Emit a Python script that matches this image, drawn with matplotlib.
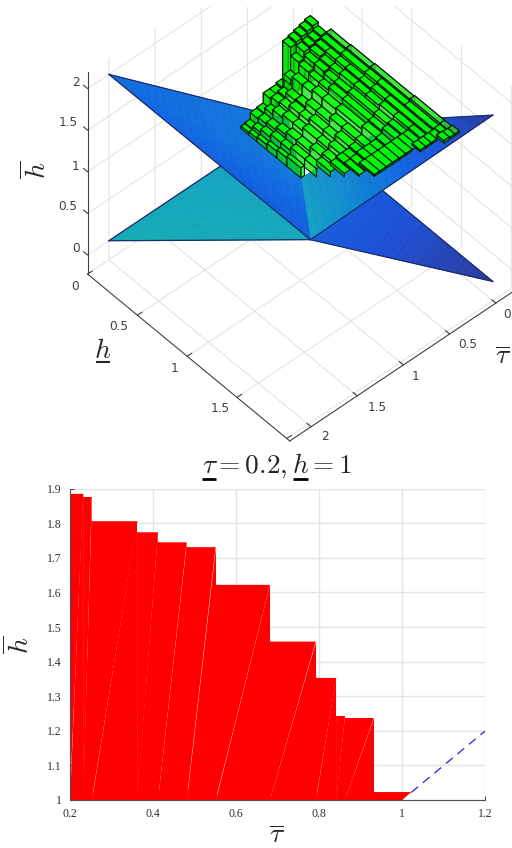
import numpy as np
import matplotlib
matplotlib.use("Agg")
from matplotlib import pyplot as plt
from matplotlib.colors import LinearSegmentedColormap
from matplotlib.lines import Line2D
from matplotlib.patches import Rectangle
from mpl_toolkits.mplot3d.art3d import Poly3DCollection

plt.rcParams['mathtext.fontset'] = 'cm'

W, H = 512, 848

# top panel: corners of the blue sheets (h, tau, hbar)
pt_a = (0, 2, 2)
pt_b = (0, 2, 0)
pt_c = (1.05, 0.95, 0.27)
pt_d = (2, 0, 0)
pt_e = (2, 0, 2)
pt_m = (1, 1, 1)
pt_p = (0, 0.7, 0)
pt_q = (0.7, 0, 0)
pt_t = (0.55, 0.65, 1)
pt_u = (1.05, 0, 1)

# colour position at the corners of each sheet
lower_teal = ([pt_b, pt_c, pt_p], [1.0, 0.92, 0.8])
lower_blue = ([pt_d, pt_c, pt_q], [0.0, 0.3, 0.3])
upper_blue = [([pt_a, pt_c, pt_m], [0.42, 0.3, 0.5]),
              ([pt_a, pt_m, pt_t], [0.42, 0.5, 0.5])]
upper_teal = [([pt_e, pt_c, pt_m], [0.0, 0.82, 0.75]),
              ([pt_e, pt_m, pt_u], [0.0, 0.75, 0.4])]

# green staircase: one row per h cell, one column per tau cell
h_edges = [0.40, 0.48, 0.56, 0.66, 0.76, 0.86, 1.0, 1.12, 1.26, 1.4, 1.55, 1.7, 1.78, 1.85]
h_base = [1, 1, 1, 1, 1, 1, 1.1, 1.24, 1.38, 1.53, 1.68, 1.75, 1.79]
tau_edges = [0.2, 0.25, 0.31, 0.37, 0.43, 0.49, 0.55, 0.62, 0.69, 0.76, 0.83, 0.90, 0.96, 1.0]
green_top = [
    [1.63, 1.80, 1.78, 1.76, 1.74, 1.72, 1.27, 1.25, 1.25, 1.13, 1.12, 1.04, 1.03],
    [1.65, 1.76, 1.74, 1.72, 1.70, 1.62, 1.45, 1.30, 1.28, 1.20, 1.14, 1.08, 1.04],
    [1.76, 1.74, 1.72, 1.70, 1.66, 1.60, 1.50, 1.36, 1.30, 1.26, 1.16, 1.12, 1.06],
    [1.76, 1.74, 1.72, 1.68, 1.66, 1.58, 1.50, 1.38, 1.36, 1.30, 1.20, 1.16, 1.08],
    [1.77, 1.75, 1.72, 1.68, 1.64, 1.58, 1.54, 1.44, 1.36, 1.30, 1.24, 1.16, 1.10],
    [1.77, 1.75, 1.72, 1.70, 1.64, 1.62, 1.54, 1.44, 1.40, 1.34, 1.24, 1.20, 1.12],
    [1.78, 1.76, 1.72, 1.70, 1.66, 1.62, 1.56, 1.50, 1.40, 1.34, 1.30, 1.20, 0],
    [1.78, 1.76, 1.74, 1.70, 1.66, 1.62, 1.56, 1.50, 1.46, 1.40, 1.34, 1.30, 0],
    [1.78, 1.76, 1.74, 1.72, 1.66, 1.62, 1.60, 1.50, 1.46, 1.44, 1.44, 1.42, 0],
    [1.79, 1.76, 1.74, 1.72, 1.68, 1.66, 1.60, 1.58, 1.58, 1.58, 1.56, 1.55, 0],
    [1.79, 1.76, 1.74, 1.72, 1.70, 1.70, 1.70, 1.70, 1.70, 1.70, 1.70, 1.70, 0],
    [1.79, 1.78, 1.77, 1.77, 1.77, 1.77, 0, 0, 0, 0, 0, 0, 0],
    [1.81, 1.81, 1.82, 0, 0, 0, 0, 0, 0, 0, 0, 0, 0],
]

# top panel tick labels
h_ticks = [0, 0.5, 1, 1.5, 2]
tau_ticks = [0, 0.5, 1, 1.5, 2]
hbar_ticks = [0, 0.5, 1, 1.5, 2]
h_labels = ["0", "0.5", "1", "1.5"]
tau_labels = ["0", "0.5", "1", "1.5", "2"]
hbar_labels = ["0", "0.5", "1", "1.5", "2"]

# bottom panel
step_right = [0.233, 0.253, 0.363, 0.4125, 0.4815, 0.551, 0.682, 0.792,
              0.8415, 0.8625, 0.9315]
step_top = [1.885, 1.876, 1.806, 1.774, 1.745, 1.731, 1.622, 1.458,
            1.353, 1.243, 1.237]
sliver_x = [0.9315, 0.9315, 1.022, 1.0]
sliver_y = [1.0, 1.023, 1.023, 1.0]
dash_x = [1.022, 1.2]
dash_y = [1.022, 1.2]

sheet_cmap = LinearSegmentedColormap.from_list(
    "sheet", ["#2b3a9c", "#1a50d8", "#0f66e2", "#1288d2", "#12a2c4", "#14abb4"])

top_green = (0, 1, 0, 0.92)
ridge_green = (0.25, 0.9, 0.25, 0.7)
wall_green = (0, 0.88, 0, 0.72)


def sheet_patches(corners, vals, n=24):
    """Split one triangle into small ones so the colour can fade across it."""
    corners = np.array(corners, dtype=float)
    vals = np.array(vals, dtype=float)
    polys, cols = [], []

    def pick(i, j):
        k = n - i - j
        w = np.array([i, j, k]) / n
        return w @ corners, w @ vals

    for i in range(n):
        for j in range(n - i):
            tri = [pick(i, j), pick(i + 1, j), pick(i, j + 1)]
            polys.append([t[0] for t in tri])
            cols.append(sheet_cmap(np.mean([t[1] for t in tri])))
            if i + j < n - 1:
                tri = [pick(i + 1, j), pick(i + 1, j + 1), pick(i, j + 1)]
                polys.append([t[0] for t in tri])
                cols.append(sheet_cmap(np.mean([t[1] for t in tri])))
    return polys, cols


def add_sheet(ax, tris, order):
    for corners, vals in tris:
        polys, cols = sheet_patches(corners, vals)
        pc = Poly3DCollection(polys, facecolors=cols, edgecolors=cols, linewidths=0.4)
        pc.set_zorder(order)
        ax.add_collection3d(pc)


def stair_faces():
    """Faces of the green stairs, joined along h where the height stays the same."""
    tops = np.array(green_top)
    n_h, n_t = tops.shape
    faces, cols = [], []

    def at(i, j):
        if 0 <= i < n_h and 0 <= j < n_t:
            return tops[i, j]
        return 0

    def wall(verts):
        faces.append(verts)
        cols.append(wall_green)

    for j in range(n_t):
        t0, t1 = tau_edges[j], tau_edges[j + 1]
        i = 0
        while i < n_h:
            z = tops[i, j]
            if z <= h_base[i]:
                i += 1
                continue
            end = i
            while (end + 1 < n_h and tops[end + 1, j] == z
                   and at(end + 1, j + 1) == at(i, j + 1) and at(end + 1, j - 1) == at(i, j - 1)
                   and z > h_base[end + 1]):
                end += 1
            h0, h1 = h_edges[i], h_edges[end + 1]
            base = h_base[end]
            faces.append([(h0, t0, z), (h1, t0, z), (h1, t1, z), (h0, t1, z)])
            cols.append(ridge_green if j == 0 else top_green)
            # neighbours decide how far each wall drops
            low = max(at(end + 1, j), base)
            if z > low:
                wall([(h1, t0, low), (h1, t1, low), (h1, t1, z), (h1, t0, z)])
            low = max(at(i - 1, j), base)
            if z > low:
                wall([(h0, t0, low), (h0, t1, low), (h0, t1, z), (h0, t0, z)])
            low = max(at(i, j + 1), base)
            if z > low:
                wall([(h0, t1, low), (h1, t1, low), (h1, t1, z), (h0, t1, z)])
            low = max(at(i, j - 1), base)
            if z > low:
                wall([(h0, t0, low), (h1, t0, low), (h1, t0, z), (h0, t0, z)])
            i = end + 1
    return faces, cols


def draw_top(fig):
    size = 530
    cx, cy = 293.8, 188.5
    ax = fig.add_axes([(cx - size / 2) / W, 1 - (cy + size / 2) / H, size / W, size / H],
                      projection="3d", computed_zorder=False)
    ax.set_proj_type("ortho")
    ax.set_box_aspect((1, 1, 1), zoom=508 / size)
    ax.view_init(elev=48, azim=-42)
    ax.patch.set_visible(False)
    ax.set_xlim(0, 2.03)
    ax.set_ylim(2.23, -0.2)
    ax.set_zlim(-0.23, 2.2)

    add_sheet(ax, [lower_teal], 1)
    add_sheet(ax, [lower_blue], 1.5)
    edge = dict(color="#1c2c66", lw=0.9)
    for p, q, order in [(pt_b, pt_c, 1.6), (pt_b, pt_p, 1.6), (pt_d, pt_c, 1.6), (pt_d, pt_q, 1.6)]:
        ax.plot(*zip(p, q), zorder=order, **edge)
    add_sheet(ax, upper_teal, 2)
    add_sheet(ax, upper_blue, 2.5)
    for p, q in [(pt_a, pt_c), (pt_a, pt_t), (pt_c, pt_e), (pt_e, pt_u)]:
        ax.plot(*zip(p, q), zorder=2.6, **edge)

    faces, cols = stair_faces()
    stairs = Poly3DCollection(faces, facecolors=cols, edgecolors="#062006", linewidths=0.8)
    stairs.set_zorder(3)
    ax.add_collection3d(stairs)

    # labels go in by hand below, mplot3d puts them too far from the axes
    ax.set_xticks(h_ticks, [""] * len(h_ticks))
    ax.set_yticks(tau_ticks, [""] * len(tau_ticks))
    ax.set_zticks(hbar_ticks, [""] * len(hbar_ticks))
    for axis in (ax.xaxis, ax.yaxis, ax.zaxis):
        axis.set_pane_color((1, 1, 1, 0))
        axis.pane.set_edgecolor((1, 1, 1, 0))
        axis.line.set_color("#404040")
        axis.line.set_linewidth(0.8)
        axis._axinfo["grid"].update(color="#e4e4e4", linewidth=0.8)
        axis._axinfo["tick"].update(inward_factor=0.0, outward_factor=0.25)
    ax.tick_params(color="#404040")
    ax.zaxis.set_ticks_position("upper")
    return ax


def draw_bottom(fig):
    ax = fig.add_axes([69.7 / W, 1 - 800 / H, 415.6 / W, 311.3 / H])
    ax.set_xlim(0.2, 1.2)
    ax.set_ylim(1, 1.9)
    ax.grid(True, color="#e4e4e4", lw=1)
    ax.set_axisbelow(True)
    left = 0.2
    for right, top in zip(step_right, step_top):
        ax.fill([left, right, right], [1, 1, top], color="red", lw=0, zorder=2)
        ax.fill([left, right, left], [1, top, top], color="red", lw=0, zorder=2)
        ax.plot([left, left], [1, top], color="red", lw=0.6, zorder=2)
        left = right
    ax.fill(sliver_x, sliver_y, color="red", lw=0, zorder=2)
    ax.plot(dash_x, dash_y, color="#2020e0", lw=0.9, dashes=(7, 5), zorder=3)

    ax.set_xticks([0.2, 0.4, 0.6, 0.8, 1, 1.2], ["0.2", "0.4", "0.6", "0.8", "1", "1.2"])
    ax.set_yticks(np.arange(10) / 10 + 1, ["1", "1.1", "1.2", "1.3", "1.4", "1.5", "1.6", "1.7", "1.8", "1.9"])
    ax.tick_params(direction="in", length=3, width=0.7, color="#404040", labelcolor="#303030", labelsize=8.5, pad=6)
    for lab in ax.get_xticklabels() + ax.get_yticklabels():
        lab.set_family("Liberation Serif")
    ax.spines["top"].set_visible(False)
    ax.spines["right"].set_visible(False)
    ax.spines["bottom"].set_color("#505050")
    ax.spines["left"].set_color("#505050")
    return ax


def px_text(fig, x, y, s, size, rot=0, color="#262626"):
    fig.text(x / W, 1 - y / H, s, fontsize=size, rotation=rot, ha="center", va="center", color=color)


def px_rule(fig, x0, x1, y, lw=1.5, color="#262626"):
    # mathtext has no \underline, so the bar is drawn by hand
    fig.add_artist(Line2D([x0 / W, x1 / W], [1 - y / H, 1 - y / H], color=color, lw=lw,
                          transform=fig.transFigure, solid_capstyle="butt", zorder=11))


if __name__ == '__main__':
    fig = plt.figure(figsize=(W / 100, H / 100), dpi=100)
    draw_top(fig)
    draw_bottom(fig)
    # the original picture cuts the walls off just under its top edge
    fig.add_artist(Rectangle((0, 1 - 7 / H), 1, 7 / H, transform=fig.transFigure,
                             color="white", lw=0, zorder=10))

    for s, (x, y) in zip(h_labels, [(75, 287), (119, 327), (175, 368), (220, 408)]):
        px_text(fig, x, y, s, 8.7, color="#404040")
    for s, (x, y) in zip(tau_labels, [(507, 314), (468, 345), (416, 376), (377, 407), (325, 437)]):
        px_text(fig, x, y, s, 8.7, color="#404040")
    for s, (x, y) in zip(hbar_labels, [(76, 248), (68, 207), (76, 166), (68, 123), (76, 83)]):
        px_text(fig, x, y, s, 8.7, color="#404040")

    px_text(fig, 37, 170, r"$\overline{h}$", 20, 90)
    px_text(fig, 103, 350, r"$h$", 20)
    px_rule(fig, 96, 110, 362)
    px_text(fig, 503, 356, r"$\overline{\tau}$", 20)
    px_text(fig, 277, 466, r"$\tau=0.2,h=1$", 19.7)
    px_rule(fig, 202, 216, 479, lw=2, color="black")
    px_rule(fig, 293, 308, 479, lw=2, color="black")
    px_text(fig, 20, 645, r"$\overline{h}$", 20, 90)
    px_text(fig, 277, 835, r"$\overline{\tau}$", 20)
    fig.savefig("out.png", dpi=100)
